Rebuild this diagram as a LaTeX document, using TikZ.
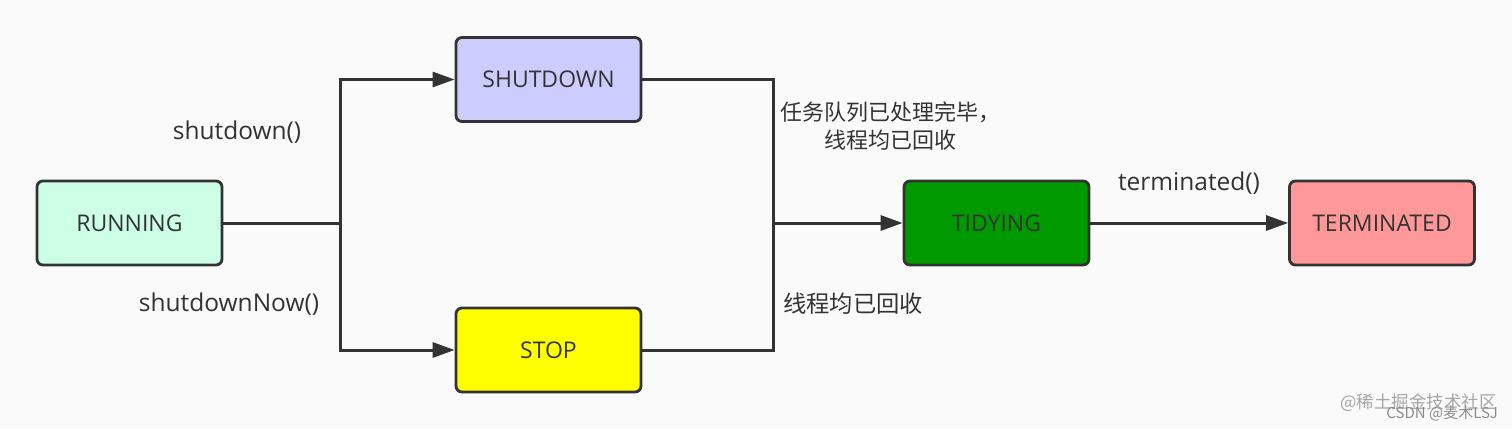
\documentclass[tikz,border=0pt]{standalone}
\usepackage{fontspec}
\setmainfont{Open Sans}
\newfontfamily\cjk{Noto Sans CJK SC}
\usetikzlibrary{arrows.meta}
\definecolor{bgc}{HTML}{FAFAFA}
\definecolor{linec}{HTML}{333333}
\definecolor{cRun}{HTML}{CCFFE6}
\definecolor{cSd}{HTML}{CCCCFF}
\definecolor{cStop}{HTML}{FFFF00}
\definecolor{cTidy}{HTML}{009900}
\definecolor{cTerm}{HTML}{FF9999}
\begin{document}
\begin{tikzpicture}[x=1pt,y=-1pt,
  state/.style={draw=linec, line width=2.8pt, rounded corners=6pt,
    minimum width=185pt, minimum height=84pt, inner sep=0pt,
    font=\fontsize{23}{26}\selectfont, text=linec},
  conn/.style={draw=linec, line width=3pt},
  arr/.style={conn, -{Triangle[length=22pt,width=15pt]}},
  lbl/.style={font=\fontsize{24.5}{28}\selectfont, text=linec, inner sep=0pt},
  cjklbl/.style={font=\cjk\fontsize{22}{28}\selectfont, text=linec, inner sep=0pt, align=center},
  wm/.style={font=\cjk\fontsize{17.5}{18}\selectfont, text=black!35, inner sep=0pt}]
\fill[bgc] (0,0) rectangle (1512,429);
\useasboundingbox (0,0) rectangle (1512,429);

\node[state, fill=cRun]  (run)  at (129.5,223) {RUNNING};
\node[state, fill=cSd]   (sd)   at (548.5,79.5) {SHUTDOWN};
\node[state, fill=cStop] (stop) at (548.5,350) {STOP};
\node[state, fill=cTidy] (tidy) at (996.5,223) {TIDYING};
\node[state, fill=cTerm] (term) at (1382,223) {TERMINATED};

\coordinate (j1) at (340,223);
\coordinate (j2) at (773,223);

\draw[conn] (run.east) -- (j1);
\draw[arr] (j1) |- (sd.west);
\draw[arr] (j1) |- (stop.west);
\draw[conn] (sd.east) -| (j2);
\draw[conn] (stop.east) -| (j2);
\draw[arr] (j2) -- (tidy.west);
\draw[arr] (tidy.east) -- (term.west);

\node[lbl] (l1) at (237,132) {shutdown()};
\node[lbl] (l2) at (229,304) {shutdownNow()};
\node[lbl] (l3) at (1189,183) {terminated()};
\node[cjklbl, anchor=north west] (l4) at (780,102) {任务队列已处理完毕，\\线程均已回收};
\node[cjklbl, anchor=west, font=\cjk\fontsize{23.3}{28}\selectfont] (l5) at (783,304) {线程均已回收};

\node[wm, anchor=east] (w1) at (1497,403) {@稀土掘金技术社区};
\node[wm, anchor=east, text=black!45, font=\cjk\fontsize{15}{16}\selectfont] (w2) at (1498,413) {CSDN @麦木LSJ};
\end{tikzpicture}
\end{document}
